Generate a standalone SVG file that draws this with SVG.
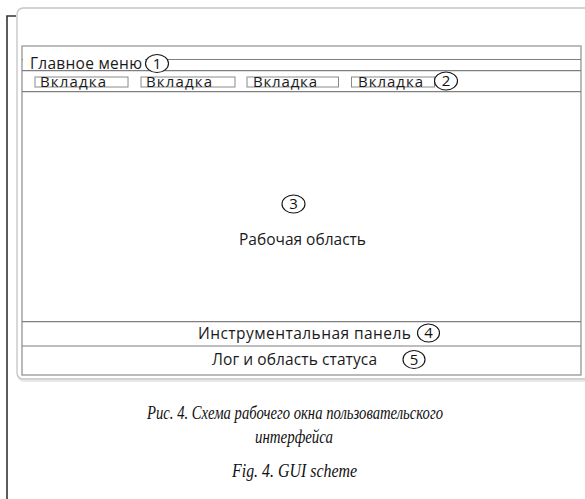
<svg xmlns="http://www.w3.org/2000/svg" width="585" height="499" viewBox="0 0 585 499">
<style>
.ui{font-family:"Open Sans","Liberation Sans",sans-serif;fill:#1a1a1a;font-size:15.5px;}
.tt{font-size:15px;}
.num{font-family:"Open Sans","Liberation Sans",sans-serif;font-size:15px;fill:#111;text-anchor:middle;}
.cap{font-family:"Liberation Serif","DejaVu Serif",serif;font-style:italic;font-size:19.5px;fill:#111;text-anchor:middle;}
.ln{stroke:#7f7f7f;stroke-width:1.2;fill:none;}
.tab{stroke:#8a8a8a;stroke-width:1;fill:none;}
.badge{stroke:#111;stroke-width:1.1;fill:#fff;}
</style>
<rect width="585" height="499" fill="#fff"/>
<g id="bracket">
<polyline points="16,16 7,16 7,499" fill="none" stroke="#333" stroke-width="1.6"/>
</g>
<g id="window">
<rect x="18" y="10" width="600" height="371" rx="6" fill="none" stroke="#e2e2e2" stroke-width="1.5"/>
<rect x="17" y="8" width="600" height="371" rx="6" fill="#fff" stroke="#c4c4c4" stroke-width="1.3"/>
<rect x="22" y="46" width="559" height="329" fill="#fff" stroke="#8c8c8c" stroke-width="1.2"/>
<line x1="22" y1="46" x2="581" y2="46" stroke="#bdbdbd" stroke-width="1.2"/>
</g>
<g id="menu">
<line class="ln" x1="22" y1="59.5" x2="581" y2="59.5"/>
<line class="ln" x1="22" y1="70.7" x2="581" y2="70.7"/>
<rect x="23" y="56" width="122" height="14" fill="#fff"/>
<text class="ui" x="30" y="68.5" textLength="112">Главное меню</text>
<ellipse class="badge" cx="157" cy="63.5" rx="11.5" ry="9"/>
<text class="num" x="157" y="68.5">1</text>
</g>
<g id="tabs">
<line class="ln" x1="22" y1="91.7" x2="581" y2="91.7"/>
<rect class="tab" x="35" y="77" width="93" height="10"/>
<rect class="tab" x="141" y="77" width="94" height="10"/>
<rect class="tab" x="247" y="77" width="91.5" height="10"/>
<rect class="tab" x="351.5" y="77" width="83" height="10"/>
<text class="ui tt" x="40" y="87" textLength="66">Вкладка</text>
<text class="ui tt" x="146" y="87" textLength="66">Вкладка</text>
<text class="ui tt" x="253" y="87" textLength="64">Вкладка</text>
<text class="ui tt" x="358" y="87" textLength="65">Вкладка</text>
<ellipse class="badge" cx="446" cy="81" rx="11.5" ry="9"/>
<text class="num" x="446" y="86">2</text>
</g>
<g id="workarea">
<ellipse class="badge" cx="293.5" cy="204" rx="11.5" ry="9"/>
<text class="num" x="293.5" y="209">3</text>
<text class="ui" x="302.5" y="245" text-anchor="middle">Рабочая область</text>
</g>
<g id="toolbar">
<line class="ln" x1="22" y1="321.7" x2="581" y2="321.7"/>
<text class="ui" x="198" y="339" textLength="213">Инструментальная панель</text>
<ellipse class="badge" cx="428.5" cy="333" rx="11" ry="9"/>
<text class="num" x="428.5" y="338">4</text>
</g>
<g id="status">
<line class="ln" x1="22" y1="346" x2="581" y2="346"/>
<text class="ui" x="212" y="365" textLength="165">Лог и область статуса</text>
<ellipse class="badge" cx="414" cy="359.5" rx="11" ry="9"/>
<text class="num" x="414" y="364.5">5</text>
</g>
<g id="caption">
<text class="cap" x="295" y="419" textLength="296" lengthAdjust="spacingAndGlyphs">Рис. 4. Схема рабочего окна пользовательского</text>
<text class="cap" x="294" y="443" textLength="78" lengthAdjust="spacingAndGlyphs">интерфейса</text>
<text class="cap" x="294.5" y="477" textLength="125" lengthAdjust="spacingAndGlyphs">Fig. 4. GUI scheme</text>
</g>
</svg>
